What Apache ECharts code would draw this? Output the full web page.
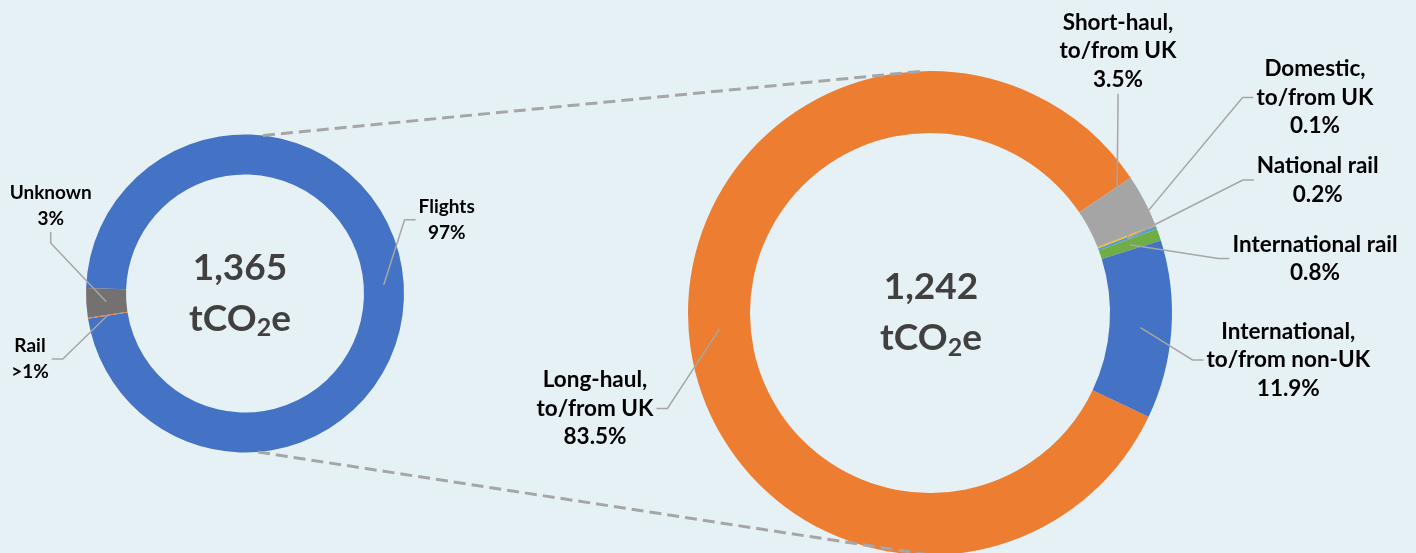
<!DOCTYPE html>
<html>
<head>
<meta charset="utf-8">
<script src="https://cdn.jsdelivr.net/npm/echarts@6/dist/echarts.min.js"></script>
<style>
  html, body { margin: 0; padding: 0; background: #E6F1F6; }
  #chart { width: 1416px; height: 553px; }
</style>
</head>
<body>
<div id="chart"></div>
<script>
// ---------- data ----------
const leftCategories = ['Flights', 'Rail', 'Unknown'];
const leftValues = [96.9, 0.1, 3.0];
const leftLabelTexts = ['Flights\n97%', 'Rail\n>1%', 'Unknown\n3%'];
const leftTotal = '1,365';

const rightCategories = ['Long-haul, to/from UK', 'Short-haul, to/from UK', 'Domestic, to/from UK',
  'National rail', 'International rail', 'International, to/from non-UK'];
const rightValues = [83.5, 3.5, 0.1, 0.2, 0.8, 11.9];
const rightLabelTexts = ['Long-haul,\nto/from UK\n83.5%', 'Short-haul,\nto/from UK\n3.5%', 'Domestic,\nto/from UK\n0.1%',
  'National rail\n0.2%', 'International rail\n0.8%', 'International,\nto/from non-UK\n11.9%'];
const rightTotal = '1,242';
const unitText = ['tCO', '2', 'e'];

// ---------- layout & style ----------
const leftColors = ['#4472C4', '#ED7D31', '#767171'];
const rightColors = ['#ED7D31', '#A5A5A5', '#FFC000', '#5B9BD5', '#70AD47', '#4472C4'];
const leftCenter = [245, 293.5], leftR = [119, 159], leftStart = 178;
const rightCenter = [930, 313], rightR = [180, 242], rightStart = 334.6;
const leftLabelPos = [[446.7, 219.7], [30, 359], [50.7, 206]];
const rightLabelPos = [[595, 408.5], [1118, 51], [1315, 97.5], [1317.7, 180], [1315, 258.5], [1288.3, 360]];
const FONT = 'Lato';
const leaderColor = '#A6A6A6';

function ring(name, center, r, start, cats, vals, colors) {
  return {
    type: 'pie', name, center, radius: r, startAngle: start, clockwise: true,
    silent: true, avoidLabelOverlap: false, label: { show: false }, labelLine: { show: false },
    emphasis: { disabled: true },
    data: cats.map((c, i) => ({ name: c, value: vals[i], itemStyle: { color: colors[i] } }))
  };
}
function labels(name, center, r, start, cats, vals, texts, pos, fs, lh) {
  return {
    type: 'pie', name, center, radius: [0, (r[0] + r[1]) / 2], startAngle: start, clockwise: true,
    silent: true, avoidLabelOverlap: false, z: 3,
    emphasis: { disabled: true },
    itemStyle: { color: 'rgba(0,0,0,0)' },
    label: {
      show: true, position: 'outside', color: '#000', fontFamily: FONT, fontWeight: 'bold',
      fontSize: fs, lineHeight: lh, padding: [0, 3],
      formatter: (p) => texts[p.dataIndex]
    },
    labelLine: { show: true, length: 10, length2: 11, minTurnAngle: 0, lineStyle: { color: leaderColor, width: 1.5 } },
    labelLayout: (p) => ({ x: pos[p.dataIndex][0], y: pos[p.dataIndex][1], align: 'center', verticalAlign: 'middle' }),
    data: cats.map((c, i) => ({ name: c, value: vals[i] }))
  };
}
function pt(center, r, cwDeg) {
  const a = cwDeg * Math.PI / 180;
  return [center[0] + r * Math.sin(a), center[1] - r * Math.cos(a)];
}
function centerText(center, dx, total) {
  return {
    type: 'text', x: center[0] + dx, y: center[1], z: 100, silent: true,
    style: {
      text: '{n|' + total + '}\n{u|' + unitText[0] + '}{s|' + unitText[1] + '}{u|' + unitText[2] + '}',
      align: 'center', verticalAlign: 'middle',
      rich: {
        n: { fontFamily: FONT, fontWeight: 'bold', fontSize: 37, lineHeight: 51, fill: '#404040', color: '#404040' },
        u: { fontFamily: FONT, fontWeight: 'bold', fontSize: 37, lineHeight: 51, fill: '#404040', color: '#404040' },
        s: { fontFamily: FONT, fontWeight: 'bold', fontSize: 25, lineHeight: 51, padding: [18, 0, 0, 0], fill: '#404040', color: '#404040' }
      }
    }
  };
}
const t1 = pt(leftCenter, leftR[1], 6.5), t2 = pt(rightCenter, rightR[1], -1.6);
const b1 = pt(leftCenter, leftR[1], 175.3), b2 = pt(rightCenter, rightR[1], 180);
const dash = { stroke: '#A6A6A6', lineWidth: 3, lineDash: [12, 6] };

const chart = echarts.init(document.getElementById('chart'), null, { renderer: 'canvas' });
chart.setOption({
  backgroundColor: '#E6F1F6',
  animation: false,
  series: [
    ring('left', leftCenter, leftR, leftStart, leftCategories, leftValues, leftColors),
    ring('right', rightCenter, rightR, rightStart, rightCategories, rightValues, rightColors),
    labels('leftLabels', leftCenter, leftR, leftStart, leftCategories, leftValues, leftLabelTexts, leftLabelPos, 19, 26),
    labels('rightLabels', rightCenter, rightR, rightStart, rightCategories, rightValues, rightLabelTexts, rightLabelPos, 22.5, 28.5)
  ],
  graphic: [
    { type: 'line', z: 100, silent: true, shape: { x1: t1[0], y1: t1[1], x2: t2[0], y2: t2[1] }, style: dash },
    { type: 'line', z: 100, silent: true, shape: { x1: b1[0], y1: b1[1], x2: b2[0], y2: b2[1] }, style: dash },
    centerText(leftCenter, -5, leftTotal),
    centerText(rightCenter, 1, rightTotal)
  ]
});
</script>
</body>
</html>
